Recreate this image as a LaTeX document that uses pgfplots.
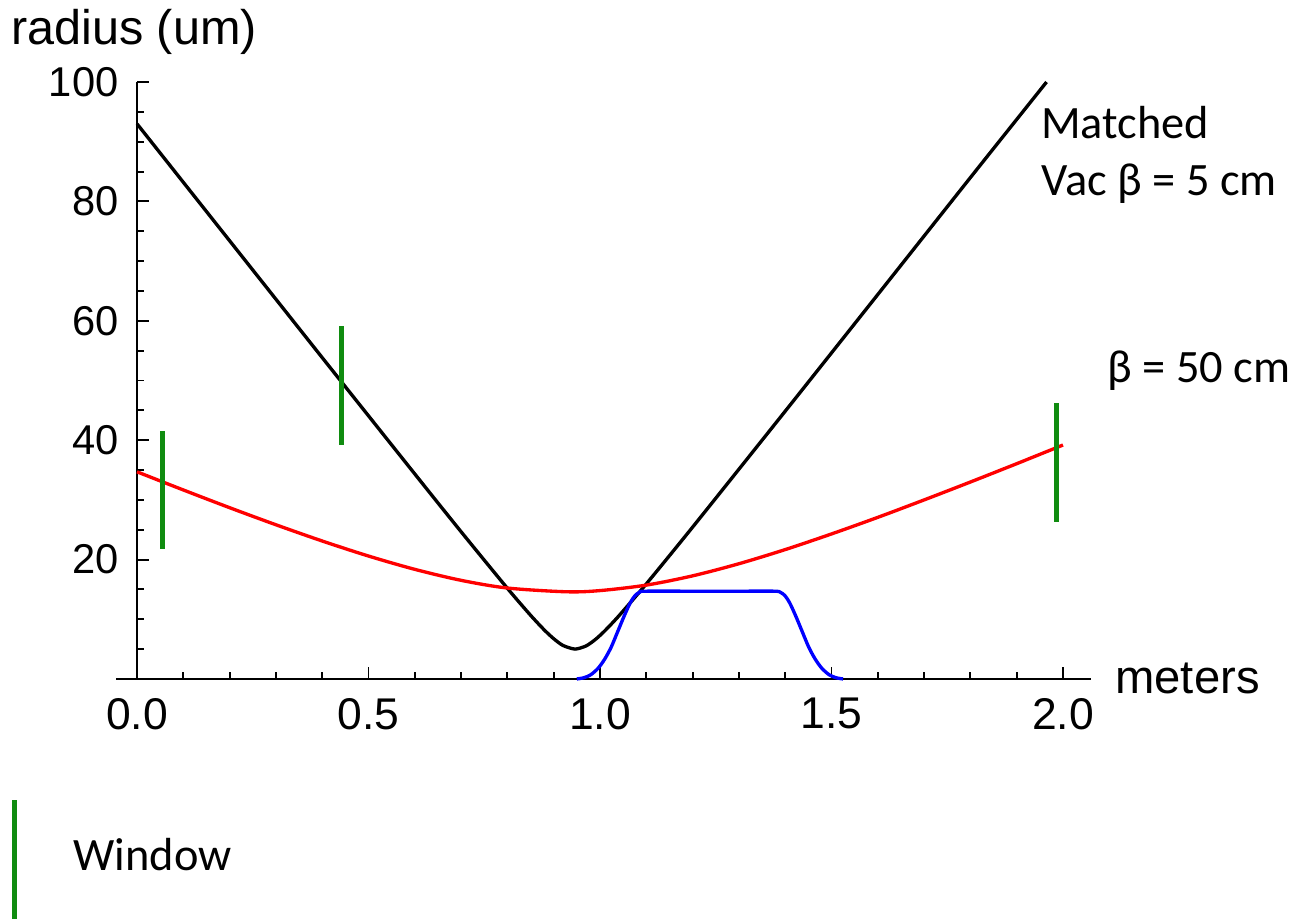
\documentclass[border=0pt]{standalone}
\usepackage{fontspec}
\usepackage{pgfplots}
\pgfplotsset{compat=1.18}
\setmainfont{Liberation Sans}
\newfontfamily\calib{Carlito}
\definecolor{wgreen}{RGB}{16,140,16}
\begin{document}
\begin{tikzpicture}
\begin{axis}[
  scale only axis, width=343.4pt, height=214.92pt,
  xmin=0, xmax=2.06, ymin=0, ymax=100,
  axis x line=bottom, axis y line=left,
  axis line style={-, line width=0.75pt},
  xtick={0,0.5,1,1.5,2}, xticklabels={0.0,0.5,1.0,1.5,2.0},
  ytick={20,40,60,80,100},
  minor xtick={0.1,0.2,0.3,0.4,0.6,0.7,0.8,0.9,1.1,1.2,1.3,1.4,1.6,1.7,1.8,1.9},
  minor ytick={5,10,15,25,30,35,45,50,55,65,70,75,85,90,95},
  tick align=inside, major tick length=4.2pt, minor tick length=2.4pt,
  every tick/.style={black, line width=0.7pt},
  /pgf/number format/assume math mode=true,
  xticklabel style={font=\fontsize{16}{19}\selectfont, inner sep=0pt, yshift=-6.8pt},
  yticklabel style={font=\fontsize{15}{18}\selectfont, inner sep=0pt, xshift=-6.5pt},
  clip=false,
]
% x axis overhang to the left
\addplot[black, line width=0.75pt, forget plot] coordinates {(-0.045,0) (0,0)};
% black: matched, vac beta = 5 cm
\addplot[black, line width=1.2pt, smooth, tension=0.4] coordinates {
(0,93.0) (0.2,73.41) (0.4,53.83) (0.6,34.34) (0.7,24.66) (0.8,15.18) (0.85,10.67)
(0.88,8.18) (0.9,6.74) (0.92,5.61) (0.946,5.0) (0.97,5.53) (0.99,6.61) (1.01,8.03)
(1.04,10.50) (1.1,15.92) (1.2,25.43) (1.4,44.85) (1.6,64.40) (1.8,83.99) (1.9645,100)};
% red: beta = 50 cm
\addplot[red, line width=1.2pt, smooth] coordinates {
(0,34.7) (0.1,31.66) (0.2,28.69) (0.3,25.83) (0.4,23.11) (0.5,20.59) (0.6,18.36)
(0.7,16.52) (0.8,15.23) (0.928,14.6) (1.0,14.80) (1.1,15.72) (1.2,17.27) (1.3,19.30)
(1.4,21.67) (1.5,24.29) (1.6,27.07) (1.7,29.99) (1.8,32.99) (1.9,36.06) (2.0,39.19)};
% blue: plasma profile
\addplot[blue, line width=1.2pt, smooth, tension=0.5] coordinates {
(0.95,0) (0.965,0.2) (0.98,0.7) (0.996,1.8) (1.01,3.3) (1.024,5.3) (1.037,7.7) (1.052,10.5) (1.065,12.7)
(1.075,13.9) (1.085,14.5) (1.098,14.7) (1.2,14.7) (1.3,14.7) (1.377,14.7) (1.39,14.5) (1.40,13.9) (1.41,12.7)
(1.423,10.5) (1.438,7.7) (1.451,5.3) (1.465,3.3) (1.479,1.8) (1.495,0.7) (1.51,0.2) (1.525,0)};
% windows
\addplot[wgreen, line width=1.8pt] coordinates {(0.054,21.8) (0.054,41.5)};
\addplot[wgreen, line width=1.8pt] coordinates {(0.441,39.2) (0.441,59.1)};
\addplot[wgreen, line width=1.8pt] coordinates {(1.985,26.3) (1.985,46.2)};
\addplot[wgreen, line width=1.8pt] coordinates {(-0.2635,-20.3) (-0.2635,-40.2)};
% labels
\node[anchor=base west, inner sep=0pt, font=\fontsize{17.5}{20}\selectfont] at (axis cs:-0.273,106.2) {radius (um)};
\node[anchor=base west, inner sep=0pt, font=\fontsize{17}{20}\selectfont] at (axis cs:2.112,-2.5) {meters};
\node[anchor=base west, inner sep=0pt, font=\calib\fontsize{16.7}{20}\selectfont] at (axis cs:1.952,90.6) {Matched};
\node[anchor=base west, inner sep=0pt, font=\calib\fontsize{16.7}{20}\selectfont] at (axis cs:1.952,81.07) {Vac β = 5 cm};
\node[anchor=base west, inner sep=0pt, font=\calib\fontsize{16.7}{20}\selectfont] at (axis cs:2.095,49.58) {β = 50 cm};
\node[anchor=base west, inner sep=0pt, font=\calib\fontsize{16.7}{20}\selectfont] at (axis cs:-0.1382,-32.16) {Window};
\coordinate (bl) at (axis cs:-0.2959,-40.2);
\coordinate (tr) at (axis cs:2.5076,113.74);
\end{axis}
\pgfresetboundingbox
\path (bl) rectangle (tr);
\end{tikzpicture}
\end{document}
